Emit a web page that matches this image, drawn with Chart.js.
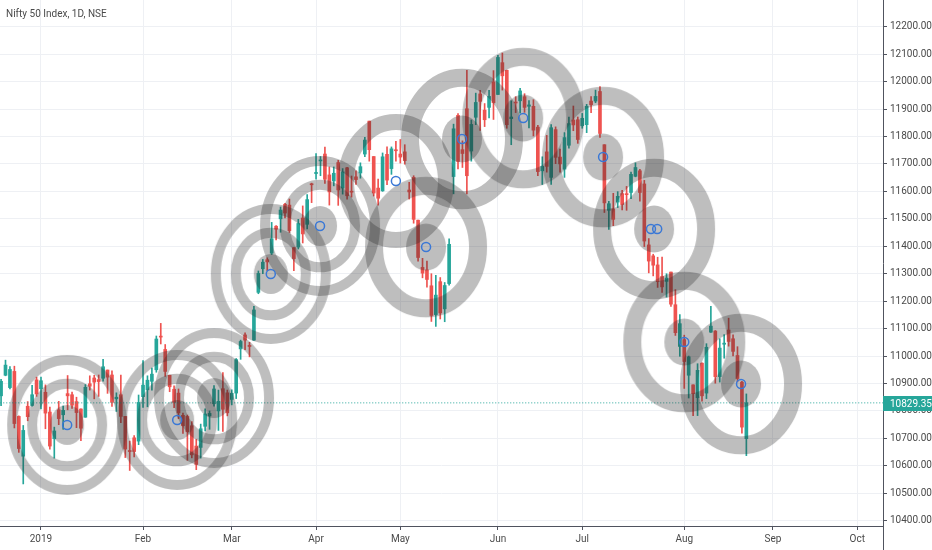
<!DOCTYPE html>
<html>
<head>
<meta charset="utf-8">
<script src="https://cdn.jsdelivr.net/npm/chart.js@4.4.1/dist/chart.umd.min.js"></script>
<style>
  html, body { margin: 0; padding: 0; background: #fff; }
  #wrap { position: relative; width: 932px; height: 550px; }
  #title { position: absolute; left: 6px; top: 8px; font: 10px Roboto, sans-serif; color: #4a4a4a; }
</style>
</head>
<body>
<div id="wrap">
  <canvas id="chart" width="932" height="550"></canvas>
  <div id="title">Nifty 50 Index, 1D, NSE</div>
</div>
<script>
// daily candles, 18 Dec 2018 .. 23 Aug 2019 (bar 0 = 1 Jan 2019)
const FIRST_BAR = -9;

const opens = [
  10855,10930,10885,10944,10780,10635,10817,10820,10913,
  10881,10868,10796,10699,10804,10786,10863,10859,10834,10807,10777,10899,10920,10914,10919,10949,10931,10844,10859,10780,10653,10702,10690,
  10852,10877,10908,10950,11070,11024,10930,10879,10865,10784,10780,10746,10672,10667,10744,10782,10826,10800,10881,10866,
  10842,10865,11026,11077,11036,11058,11232,11318,11351,11375,11473,11500,11553,11550,11395,11397,11503,11480,11625,
  11665,11711,11736,11660,11638,11705,11612,11686,11598,11653,11667,11736,11856,11727,11612,11602,11735,11683,11750,
  11736,11744,11605,11651,11495,11323,11314,11256,11151,11271,11172,11264,11654,11877,11752,11901,11747,11870,11955,11896,11906,11999,
  11953,12069,12041,11865,11923,11930,11945,11910,11910,11834,11675,11744,11651,11825,11725,11681,11768,11860,11861,
  11839,11843,11929,11929,11964,11770,11531,11536,11561,11592,11589,11596,11655,11675,11627,11405,11365,11332,11290,11272,11306,11187,11035,
  11060,10930,10895,10848,10974,10865,11087,11091,10925,11043,11095,11063,11002,10905,10699
];
const highs = [
  10915,10985,10962,10963,10782,10747,10834,10893,10923,
  10923,10895,10814,10741,10835,10818,10929,10869,10850,10808,10896,10928,10930,10931,10988,10949,10946,10866,10931,10780,10690,10710,10858,
  10983,10928,10956,11073,11119,11042,10930,10891,10880,10792,10785,10761,10696,10752,10808,10800,10892,10876,10940,10876,
  10877,10991,11058,11085,11050,11181,11310,11352,11358,11487,11475,11543,11556,11572,11395,11498,11547,11588,11630,
  11738,11727,11761,11689,11689,11713,11683,11688,11656,11675,11704,11797,11856,11727,11645,11740,11762,11762,11782,
  11789,11770,11633,11657,11495,11356,11346,11300,11294,11286,11268,11427,11845,11883,11784,12041,11860,11958,11968,11920,11968,12040,
  12096,12104,12042,11930,11945,11975,11956,11931,11934,11841,11726,11804,11843,11835,11754,11814,11871,11911,11871,
  11884,11917,11945,11969,11982,11770,11564,11593,11599,11604,11618,11670,11704,11680,11640,11428,11371,11360,11361,11300,11306,11242,11151,
  11076,11000,10895,10972,10975,11045,11181,11093,11063,11078,11138,11077,11034,10908,10862
];
const lows = [
  10819,10928,10880,10738,10649,10534,10764,10817,10853,
  10807,10735,10661,10628,10750,10733,10804,10809,10739,10692,10777,10876,10844,10853,10908,10864,10816,10798,10757,10630,10583,10632,10677,
  10813,10815,10876,10941,11044,10926,10870,10812,10772,10718,10620,10629,10586,10628,10727,10733,10817,10729,10725,10782,
  10822,10845,10988,11023,10997,11057,11227,11300,11311,11370,11423,11451,11503,11450,11311,11390,11412,11463,11559,
  11644,11657,11629,11550,11620,11549,11590,11572,11579,11625,11648,11726,11710,11583,11550,11600,11624,11662,11710,
  11703,11699,11572,11484,11346,11285,11251,11126,11108,11135,11125,11258,11591,11682,11687,11591,11710,11843,11822,11836,11868,11862,
  11953,11969,11830,11770,11887,11885,11888,11831,11802,11657,11625,11670,11625,11701,11670,11651,11757,11821,11775,
  11830,11814,11887,11923,11797,11523,11461,11475,11541,11532,11531,11573,11653,11564,11399,11303,11292,11250,11232,11215,11181,11075,10999,
  10882,10847,10783,10783,10836,10845,11086,10901,10905,10992,11036,11000,10906,10719,10637
];
const closes = [
  10908,10967,10951,10754,10663,10729,10779,10859,10862,
  10910,10792,10672,10727,10772,10802,10855,10821,10794,10737,10886,10890,10905,10907,10961,10923,10831,10850,10780,10661,10652,10652,10831,
  10894,10912,10934,11062,11069,10944,10888,10831,10793,10746,10724,10640,10605,10735,10789,10791,10880,10835,10806,10793,
  10864,10987,11053,11058,11035,11168,11301,11342,11343,11427,11462,11532,11521,11457,11355,11483,11445,11570,11624,
  11669,11713,11644,11598,11666,11605,11671,11584,11597,11643,11690,11787,11752,11594,11575,11726,11641,11755,11748,
  11725,11712,11598,11498,11359,11302,11279,11148,11222,11157,11257,11407,11828,11709,11738,11657,11844,11924,11928,11861,11946,11923,
  12088,12021,11843,11871,11922,11966,11906,11915,11823,11672,11691,11691,11832,11724,11700,11796,11847,11842,11789,
  11866,11910,11916,11946,11811,11558,11555,11498,11582,11552,11588,11662,11687,11596,11419,11346,11331,11271,11252,11284,11189,11085,11118,
  10980,10997,10863,10948,10855,11032,11109,10925,11029,11047,11053,11017,10918,10741,10829.35
];

// month starts on the trading-day axis
const monthTickBars = [0, 23, 43, 62, 81, 103, 122, 145, 165, 184];
const monthLabels = ['2019', 'Feb', 'Mar', 'Apr', 'May', 'Jun', 'Jul', 'Aug', 'Sep', 'Oct'];

// circle drawings: centre bar, centre price, kind
const ringBars   = [5.9, 30.7, 39.0, 51.8, 62.9, 80.0, 86.8, 94.9, 108.7, 126.7, 138.2, 145.0, 157.8];
const ringPrices = [10749, 10767, 10847, 11299, 11474, 11638, 11397, 11791, 11867, 11725, 11463, 11051, 10898];
const ringKinds  = ['A', 'A', 'A', 'A', 'A', 'C', 'B', 'B', 'B', 'B', 'B', 'B', 'B'];

// small blue anchor circles
const markerBars   = [5.9, 30.7, 51.8, 62.9, 80.0, 86.8, 94.9, 108.7, 126.7, 137.5, 138.9, 145.0, 157.8];
const markerPrices = [10749, 10767, 11299, 11474, 11638, 11397, 11791, 11867, 11725, 11463, 11463, 11051, 10898];

const lastPrice = closes[closes.length - 1];

// ---- styles ----
const UP = '#26a69a', DOWN = '#ef5350';
const GRID = '#eef0f4', AXIS = '#50535e', TEXT = '#4a4a4a';
const RING_COLOR = 'rgba(40,40,40,0.3)';
const ASPECT = 1.18;
const ringStyles = {
  A: { disc: 17, rings: [[35, 10], [55, 10]] },
  B: { disc: 20, rings: [[52, 18]] },
  C: { disc: 0,  rings: [[50, 16]] }
};

function ringSprite(st) {
  const maxR = Math.max(st.disc, ...st.rings.map(r => r[0] + r[1] / 2));
  const w = Math.ceil(maxR + 2) * 2, h = Math.ceil(maxR * ASPECT + 2) * 2;
  const c = document.createElement('canvas');
  c.width = w; c.height = h;
  const g = c.getContext('2d');
  g.fillStyle = RING_COLOR;
  g.strokeStyle = RING_COLOR;
  if (st.disc) {
    g.beginPath();
    g.ellipse(w / 2, h / 2, st.disc, st.disc * ASPECT, 0, 0, Math.PI * 2);
    g.fill();
  }
  st.rings.forEach(([r, lw]) => {
    g.lineWidth = lw;
    g.beginPath();
    g.ellipse(w / 2, h / 2, r, r * ASPECT, 0, 0, Math.PI * 2);
    g.stroke();
  });
  return c;
}

const colorOf = i => closes[i] >= opens[i] ? UP : DOWN;
const barX = i => i + FIRST_BAR;

const ringSets = Object.keys(ringStyles).map(kind => ({
  type: 'scatter',
  order: 1,
  data: ringBars.map((x, i) => ({ x, y: ringPrices[i] })).filter((p, i) => ringKinds[i] === kind),
  pointStyle: ringSprite(ringStyles[kind]),
  pointRadius: 5
}));

const font = { family: 'Roboto, sans-serif', size: 10 };

const priceTag = {
  id: 'priceTag',
  afterDraw(chart) {
    const { ctx, chartArea: a } = chart;
    const y = Math.round(chart.scales.y.getPixelForValue(lastPrice));
    ctx.save();
    ctx.strokeStyle = AXIS;
    ctx.lineWidth = 1;
    ctx.beginPath();
    ctx.moveTo(a.right + 0.5, a.bottom);
    ctx.lineTo(a.right + 0.5, chart.height);
    ctx.stroke();
    ctx.fillStyle = UP;
    ctx.fillRect(a.right, y - 7, chart.width - a.right, 15);
    ctx.fillStyle = '#fff';
    ctx.font = '10px Roboto, sans-serif';
    ctx.textBaseline = 'middle';
    ctx.fillText(lastPrice.toFixed(2), a.right + 7, y + 1);
    ctx.restore();
  }
};

new Chart(document.getElementById('chart').getContext('2d'), {
  type: 'bar',
  data: {
    datasets: [
      {
        type: 'scatter',
        order: 0,
        data: markerBars.map((x, i) => ({ x, y: markerPrices[i] })),
        pointRadius: 4.5,
        pointBorderWidth: 1.5,
        pointBorderColor: '#3a78d6',
        pointBackgroundColor: 'rgba(0,0,0,0)'
      },
      ...ringSets,
      {
        type: 'line',
        order: 2,
        data: [{ x: -20, y: lastPrice }, { x: 200, y: lastPrice }],
        borderColor: UP,
        borderWidth: 1,
        borderDash: [1, 2],
        pointRadius: 0
      },
      {
        order: 3,
        grouped: false,
        data: opens.map((o, i) => ({ x: barX(i), y: [o, closes[i]] })),
        backgroundColor: c => colorOf(c.dataIndex),
        barThickness: 3,
        minBarLength: 1
      },
      {
        order: 4,
        grouped: false,
        data: lows.map((l, i) => ({ x: barX(i), y: [l, highs[i]] })),
        backgroundColor: c => colorOf(c.dataIndex),
        barThickness: 1
      }
    ]
  },
  options: {
    responsive: false,
    animation: false,
    events: [],
    layout: { padding: 0, autoPadding: false },
    plugins: { legend: { display: false }, tooltip: { enabled: false } },
    scales: {
      x: {
        type: 'linear',
        min: -9.24,
        max: 189.8,
        offset: false,
        afterBuildTicks: s => { s.ticks = monthTickBars.map(v => ({ value: v })); },
        afterFit: s => { s.height = 24; s.paddingLeft = 0; s.paddingRight = 0; },
        ticks: { callback: (v, i) => monthLabels[i], font, color: TEXT, padding: 3, maxRotation: 0, autoSkip: false },
        grid: { color: GRID, offset: false, tickLength: 4, tickColor: AXIS },
        border: { color: AXIS }
      },
      y: {
        position: 'right',
        min: 10380.7,
        max: 12297.3,
        beginAtZero: false,
        afterFit: s => { s.width = 49; s.paddingTop = 0; s.paddingBottom = 0; },
        ticks: { stepSize: 100, includeBounds: false, callback: v => v.toFixed(2), font, color: TEXT, padding: 3, crossAlign: 'near' },
        grid: { color: GRID, tickLength: 4, tickColor: AXIS },
        border: { color: AXIS }
      }
    }
  },
  plugins: [priceTag]
});
</script>
</body>
</html>
